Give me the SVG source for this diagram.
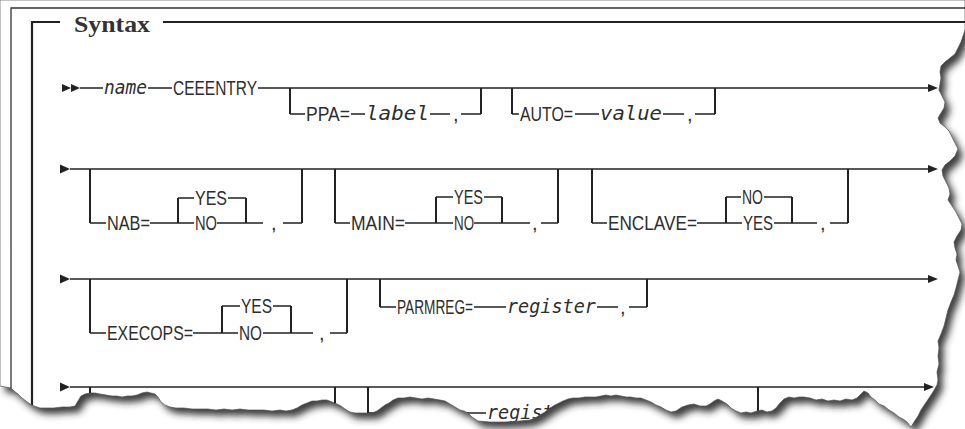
<svg xmlns="http://www.w3.org/2000/svg" width="965" height="429" viewBox="0 0 965 429">
<style>
.t{font-family:"Liberation Sans",Arial,sans-serif;font-size:20px;fill:#2e2e2e}
.i{font-family:"DejaVu Sans Mono","Liberation Mono",monospace;font-style:italic;font-size:19px;fill:#2e2e2e}
.h{font-family:"Liberation Serif","Times New Roman",serif;font-weight:bold;font-size:23px;fill:#333}
.ln{stroke:#222;stroke-width:1.3;fill:none}
.v{stroke:#222;stroke-width:2;fill:none}
.fr{stroke:#333;stroke-width:1.3;fill:none}
.bx{stroke:#222;stroke-width:2.2;fill:none}
.ah{fill:#222}
</style>
<defs>
<path id="paperShape" d="M0,0 L965,0 965,30 963,36 961,42 958,48 955,54 950,58 945,62 941,66 940,72 941,78 940,84 939,90 942,96 945,102 944,108 941,113 938,118 940,123 945,127 949,131 952,137 955,143 958,149 955,156 950,161 945,165 942,170 943,176 946,182 949,188 950,194 948,200 952,206 956,212 959,218 962,224 961,230 957,236 954,242 955,248 957,254 956,260 958,266 960,272 958,280 956,288 954,295 951,302 948,310 946,318 944,326 941,334 938,341 939,348 938,356 939,364 937,372 938,380 937,385 933,392 929,398 925,404 921,410 918,416 914,422 911,427 907,422 903,419 899,417 894,413 889,410 884,406 879,404 875,400 871,397 868,393 864,391 861,394 857,398 852,400 846,399 840,401 834,400 828,401 822,399 816,400 810,398 804,397 799,397 794,398 789,397 784,399 780,403 776,408 772,411 767,412 762,410 757,411 751,413 746,412 741,413 736,411 731,408 727,404 722,401 718,399 714,401 710,404 706,406 700,406 694,404 688,405 682,407 676,411 671,412 666,410 661,407 656,405 651,402 646,400 641,398 636,398 631,397 626,397 621,396 616,395 611,396 606,395 601,396 596,397 591,397 585,397 579,398 573,398 568,399 563,401 559,403 555,405 550,408 545,412 540,415 535,418 530,420 520,421 505,422 490,422 478,421 472,417 468,413 464,411 460,410 455,407 450,404 445,401 440,400 434,399 428,398 422,399 416,398 410,397 404,398 398,398 393,400 389,403 385,405 381,408 377,411 372,413 366,413 360,413 355,413 350,412 345,409 341,406 337,404 332,402 327,400 322,400 317,401 312,401 307,403 302,405 297,408 292,410 286,411 280,410 272,411 264,410 256,410 248,410 240,409 232,410 224,409 216,410 208,409 200,409 192,409 184,408 176,408 170,407 165,405 161,402 158,397 155,394 151,393 147,392 142,393 137,395 132,396 127,396 122,397 117,396 112,396 106,395 100,394 95,393 90,393 85,394 81,396 78,401 75,406 70,407 62,407 54,408 46,408 40,408 34,406 30,404 26,401 22,398 18,394 14,391 11,388 0,386 Z"/>
<clipPath id="paperClip"><use href="#paperShape"/></clipPath>
<filter id="blur" x="-5%" y="-5%" width="110%" height="115%"><feGaussianBlur stdDeviation="3.5"/></filter>
</defs>
<rect width="965" height="429" fill="#fff"/>
<g id="shadow" transform="translate(5,6)" filter="url(#blur)"><use href="#paperShape" fill="#2a2a2a" fill-opacity="0.9"/></g>
<g id="paper"><use href="#paperShape" fill="#fff" stroke="#555" stroke-width="0.7"/></g>
<g id="content" clip-path="url(#paperClip)">
<g id="frame">
<path class="fr" d="M965,8 H11 V388"/>
<path class="bx" d="M60,22 H32 V406 M163,22 H965"/>
<text class="h" x="74" y="32" textLength="76" lengthAdjust="spacingAndGlyphs">Syntax</text>
</g>
<g id="connectors">
<polygon class="ah" points="62,84 71,88 62,92"/>
<polygon class="ah" points="71,84 80,88 71,92"/>
<path class="ln" d="M80,88 H103 M148,88 H172 M258,88 H929"/>
<polygon class="ah" points="928,84 938,88 928,92"/>
<path class="ln" d="M290,114 H305 M351,114 H365 M430,114 H450 M461,114 H481"/>
<path class="v" d="M290,88 V114 M481,114 V88"/>
<path class="ln" d="M512,114 H519 M575,114 H599 M663,114 H684 M695,114 H715"/>
<path class="v" d="M512,88 V114 M715,114 V88"/>
<polygon class="ah" points="60,164.5 70,169 60,173.5"/>
<path class="ln" d="M70,169 H929"/>
<polygon class="ah" points="928,165 938,169 928,173"/>
<path class="ln" d="M90,223 H106 M150,223 H194 M217,223 H263 M283,223 H302 M178,198 H194 M228,198 H246"/>
<path class="v" d="M90,169 V223 M302,223 V169 M178,198 V223 M246,198 V223"/>
<path class="ln" d="M335,223 H350 M405,223 H453 M474,223 H530 M541,223 H558 M436,197 H453 M484,197 H502"/>
<path class="v" d="M335,169 V223 M558,223 V169 M436,197 V223 M502,197 V223"/>
<path class="ln" d="M592,223 H607 M697,223 H742 M774,223 H817 M830,223 H848 M726,197 H741 M764,197 H792"/>
<path class="v" d="M592,169 V223 M848,223 V169 M726,197 V223 M792,197 V223"/>
<polygon class="ah" points="60,274.5 70,279 60,283.5"/>
<path class="ln" d="M70,279 H929"/>
<polygon class="ah" points="928,275 938,279 928,283"/>
<path class="ln" d="M90,333 H106 M193,333 H238 M263,333 H313 M330,333 H347 M222,306 H240 M273,306 H291"/>
<path class="v" d="M90,279 V333 M347,333 V279 M222,306 V333 M291,306 V333"/>
<path class="ln" d="M380,307 H396 M474,307 H506 M597,307 H618 M629,307 H647"/>
<path class="v" d="M380,279 V307 M647,307 V279"/>
<polygon class="ah" points="60,382.5 70,387 60,391.5"/>
<path class="ln" d="M70,387 H925"/>
<polygon class="ah" points="924,383 934,387 924,391"/>
<path class="v" d="M90,387 V420 M335,387 V420 M368,387 V420 M758,387 V420"/>
<path class="ln" d="M368,413 H486"/>
</g>
<g id="row1">
<text class="i" x="104" y="94" textLength="43" lengthAdjust="spacingAndGlyphs">name</text>
<text class="t" x="173" y="95" textLength="84" lengthAdjust="spacingAndGlyphs">CEEENTRY</text>
</g>
<g id="clause-ppa">
<text class="t" x="306" y="121" textLength="44" lengthAdjust="spacingAndGlyphs">PPA=</text>
<text class="i" x="366" y="120" textLength="63" lengthAdjust="spacingAndGlyphs">label</text>
<text class="t" x="453" y="121">,</text>
</g>
<g id="clause-auto">
<text class="t" x="520" y="121" textLength="53" lengthAdjust="spacingAndGlyphs">AUTO=</text>
<text class="i" x="600" y="120" textLength="62" lengthAdjust="spacingAndGlyphs">value</text>
<text class="t" x="687" y="121">,</text>
</g>
<g id="clause-nab">
<text class="t" x="107" y="230" textLength="43" lengthAdjust="spacingAndGlyphs">NAB=</text>
<text class="t" x="195" y="205" textLength="32" lengthAdjust="spacingAndGlyphs">YES</text>
<text class="t" x="195" y="230" textLength="22" lengthAdjust="spacingAndGlyphs">NO</text>
<text class="t" x="271" y="230">,</text>
</g>
<g id="clause-main">
<text class="t" x="351" y="230" textLength="54" lengthAdjust="spacingAndGlyphs">MAIN=</text>
<text class="t" x="454" y="204" textLength="29" lengthAdjust="spacingAndGlyphs">YES</text>
<text class="t" x="454" y="230" textLength="20" lengthAdjust="spacingAndGlyphs">NO</text>
<text class="t" x="532" y="230">,</text>
</g>
<g id="clause-enclave">
<text class="t" x="608" y="230" textLength="89" lengthAdjust="spacingAndGlyphs">ENCLAVE=</text>
<text class="t" x="742" y="204" textLength="21" lengthAdjust="spacingAndGlyphs">NO</text>
<text class="t" x="743" y="230" textLength="30" lengthAdjust="spacingAndGlyphs">YES</text>
<text class="t" x="820" y="230">,</text>
</g>
<g id="clause-execops">
<text class="t" x="107" y="340" textLength="86" lengthAdjust="spacingAndGlyphs">EXECOPS=</text>
<text class="t" x="241" y="313" textLength="31" lengthAdjust="spacingAndGlyphs">YES</text>
<text class="t" x="239" y="340" textLength="23" lengthAdjust="spacingAndGlyphs">NO</text>
<text class="t" x="319" y="340">,</text>
</g>
<g id="clause-parmreg">
<text class="t" x="397" y="314" textLength="76" lengthAdjust="spacingAndGlyphs">PARMREG=</text>
<text class="i" x="507" y="313" textLength="89" lengthAdjust="spacingAndGlyphs">register</text>
<text class="t" x="620" y="314">,</text>
</g>
<g id="row4">
<text class="i" x="487" y="419" textLength="89" lengthAdjust="spacingAndGlyphs">register</text>
</g>
</g>
</svg>
